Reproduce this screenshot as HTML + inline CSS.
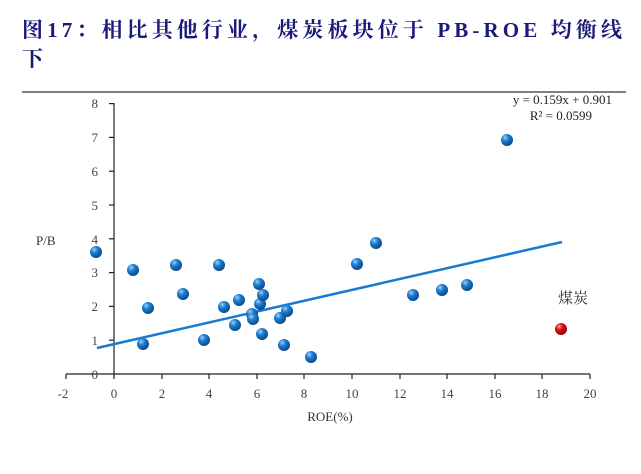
<!DOCTYPE html>
<html><head><meta charset="utf-8"><style>
body{margin:0;background:#fff;width:641px;height:469px;overflow:hidden}
</style></head><body>
<svg width="641" height="469" xmlns="http://www.w3.org/2000/svg" font-family="Liberation Serif, Noto Serif CJK SC, serif">
<defs><radialGradient id="b" cx="0.35" cy="0.3" r="0.7"><stop offset="0" stop-color="#9fd0ff"/><stop offset="0.4" stop-color="#1f7fd0"/><stop offset="1" stop-color="#0a4a8a"/></radialGradient>
<radialGradient id="r" cx="0.35" cy="0.3" r="0.7"><stop offset="0" stop-color="#ffb0b0"/><stop offset="0.4" stop-color="#e01010"/><stop offset="1" stop-color="#900"/></radialGradient></defs>
<text x="22" y="37" font-size="21" font-weight="bold" fill="#1a1a7a" textLength="600" lengthAdjust="spacing">图17：相比其他行业，煤炭板块位于 PB-ROE 均衡线</text>
<text x="22" y="66" font-size="21" font-weight="bold" fill="#1a1a7a">下</text>
<line x1="22" y1="92" x2="626" y2="92" stroke="#555" stroke-width="1.5"/>
<g stroke="#222" stroke-width="1.2">
<line x1="114" y1="103" x2="114" y2="374"/>
<line x1="66" y1="374" x2="590" y2="374"/>
<line x1="66" y1="374" x2="66" y2="379"/><line x1="114" y1="374" x2="114" y2="379"/><line x1="162" y1="374" x2="162" y2="379"/><line x1="209" y1="374" x2="209" y2="379"/><line x1="257" y1="374" x2="257" y2="379"/><line x1="304" y1="374" x2="304" y2="379"/><line x1="352" y1="374" x2="352" y2="379"/><line x1="400" y1="374" x2="400" y2="379"/><line x1="447" y1="374" x2="447" y2="379"/><line x1="495" y1="374" x2="495" y2="379"/><line x1="542" y1="374" x2="542" y2="379"/><line x1="590" y1="374" x2="590" y2="379"/>
<line x1="109" y1="103.6" x2="114" y2="103.6"/><line x1="109" y1="137.4" x2="114" y2="137.4"/><line x1="109" y1="171.2" x2="114" y2="171.2"/><line x1="109" y1="205" x2="114" y2="205"/><line x1="109" y1="238.8" x2="114" y2="238.8"/><line x1="109" y1="272.6" x2="114" y2="272.6"/><line x1="109" y1="306.4" x2="114" y2="306.4"/><line x1="109" y1="340.2" x2="114" y2="340.2"/>
</g>
<g font-size="13" fill="#444" text-anchor="middle">
<text x="63" y="398">-2</text><text x="114" y="398">0</text><text x="162" y="398">2</text><text x="209" y="398">4</text><text x="257" y="398">6</text><text x="304" y="398">8</text><text x="352" y="398">10</text><text x="400" y="398">12</text><text x="447" y="398">14</text><text x="495" y="398">16</text><text x="542" y="398">18</text><text x="590" y="398">20</text>
</g>
<g font-size="13" fill="#444" text-anchor="end">
<text x="98" y="108">8</text><text x="98" y="142">7</text><text x="98" y="176">6</text><text x="98" y="210">5</text><text x="98" y="244">4</text><text x="98" y="277">3</text><text x="98" y="311">2</text><text x="98" y="345">1</text><text x="98" y="379">0</text>
</g>
<text x="36" y="245" font-size="13" fill="#333">P/B</text>
<text x="330" y="421" font-size="13" fill="#333" text-anchor="middle">ROE(%)</text>
<text x="612" y="104" font-size="13" fill="#222" text-anchor="end">y = 0.159x + 0.901</text>
<text x="592" y="120" font-size="13" fill="#222" text-anchor="end">R² = 0.0599</text>
<text x="558" y="303" font-size="15" fill="#333" font-family="Noto Serif CJK SC, serif">煤炭</text>
<line x1="97" y1="348" x2="562" y2="242" stroke="#1a7ad0" stroke-width="2.5"/>
<g fill="url(#b)">
<circle cx="96" cy="252" r="6"/><circle cx="133" cy="270" r="6"/><circle cx="148" cy="308" r="6"/><circle cx="143" cy="344" r="6"/><circle cx="176" cy="265" r="6"/><circle cx="183" cy="294" r="6"/><circle cx="204" cy="340" r="6"/><circle cx="219" cy="265" r="6"/><circle cx="224" cy="307" r="6"/><circle cx="235" cy="325" r="6"/><circle cx="239" cy="300" r="6"/><circle cx="252" cy="314" r="6"/><circle cx="253" cy="319" r="6"/><circle cx="259" cy="284" r="6"/><circle cx="260" cy="304" r="6"/><circle cx="263" cy="295" r="6"/><circle cx="262" cy="334" r="6"/><circle cx="280" cy="318" r="6"/><circle cx="284" cy="345" r="6"/><circle cx="287" cy="311" r="6"/><circle cx="311" cy="357" r="6"/><circle cx="357" cy="264" r="6"/><circle cx="376" cy="243" r="6"/><circle cx="413" cy="295" r="6"/><circle cx="442" cy="290" r="6"/><circle cx="467" cy="285" r="6"/><circle cx="507" cy="140" r="6"/>
</g>
<circle cx="561" cy="329" r="6" fill="url(#r)"/>
</svg>
</body></html>
